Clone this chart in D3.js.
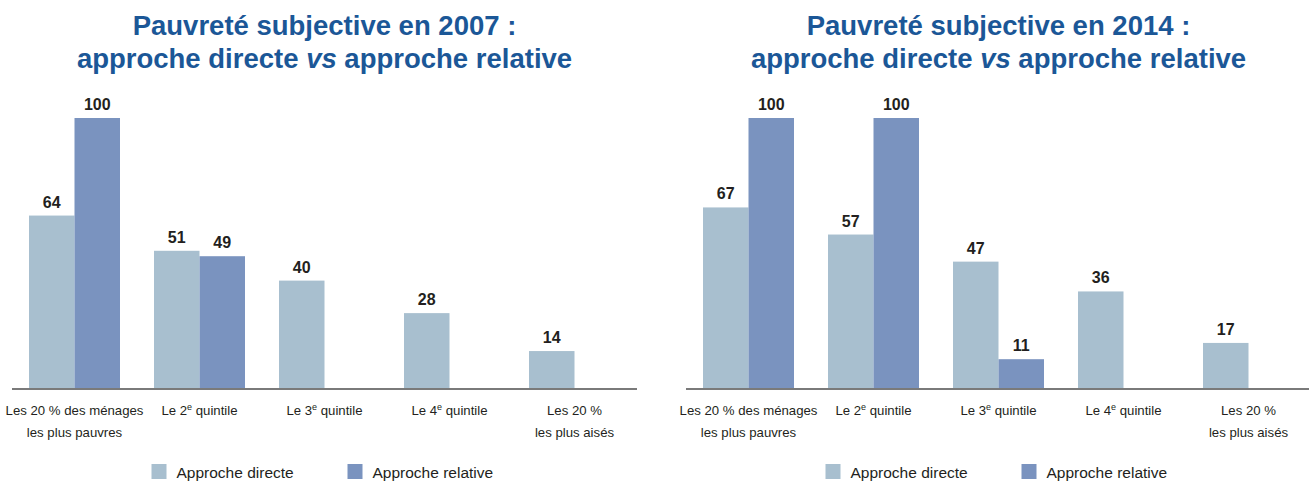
<!DOCTYPE html>
<meta charset="utf-8">
<style>
  body { margin: 0; background: #fff; }
  svg { font-family: "Liberation Sans", Arial, Helvetica, sans-serif; }
  .title { fill: #1b5797; font-weight: bold; font-size: 27.5px; text-anchor: middle; }
  .value { fill: #231f20; font-weight: bold; font-size: 16px; text-anchor: middle; }
  .cat { fill: #231f20; font-size: 13.2px; text-anchor: middle; }
  .legend text { fill: #231f20; font-size: 15.5px; }
  .axis-line { stroke: #7a7a7a; stroke-width: 2px; }
</style>
<body>
<script src="https://d3js.org/d3.v7.min.js"></script>
<script>
// categories (line 1, line 2); "^e" marks the superscript
const categories = [
  ["Les 20 % des ménages", "les plus pauvres"],
  ["Le 2^e quintile"],
  ["Le 3^e quintile"],
  ["Le 4^e quintile"],
  ["Les 20 %", "les plus aisés"]
];
const series = ["Approche directe", "Approche relative"];
const years = ["2007", "2014"];

// values per category, null = no bar
const direct2007   = [64, 51, 40, 28, 14];
const relative2007 = [100, 49, null, null, null];
const direct2014   = [67, 57, 47, 36, 17];
const relative2014 = [100, 100, 11, null, null];

const panels = [
  { year: years[0], values: [direct2007, relative2007], x0: 12 },
  { year: years[1], values: [direct2014, relative2014], x0: 686 }
];

const colors = d3.scaleOrdinal().domain(series).range(["#a8bfcf", "#7a93bf"]);

const width = 1309, height = 481;
const panelWidth = 625;
const baseline = 389, top100 = 118;

const svg = d3.select("body").append("svg")
  .attr("width", width)
  .attr("height", height);

const y = d3.scaleLinear().domain([0, 100]).range([baseline, top100]);

panels.forEach(p => {
  const g = svg.append("g").attr("class", "panel");
  const catIdx = d3.range(categories.length);

  const x = d3.scaleBand()
    .domain(catIdx)
    .range([p.x0, p.x0 + panelWidth])
    .paddingInner(0.272)
    .paddingOuter(0.136);

  const xs = d3.scaleBand()
    .domain(series)
    .range([0, x.bandwidth()]);

  const cx = p.x0 + panelWidth / 2;

  // title
  const title = g.append("text").attr("class", "title").attr("x", cx).attr("y", 35);
  title.text("Pauvreté subjective en " + p.year + " :");
  const t2 = g.append("text").attr("class", "title").attr("x", cx).attr("y", 68);
  t2.append("tspan").text("approche directe ");
  t2.append("tspan").attr("font-style", "italic").text("vs");
  t2.append("tspan").text(" approche relative");

  // bars
  const rows = [];
  series.forEach((s, si) => {
    p.values[si].forEach((v, ci) => {
      if (v != null) rows.push({ s: s, c: ci, v: v });
    });
  });

  g.selectAll("rect.bar").data(rows).enter().append("rect")
    .attr("class", "bar")
    .attr("x", d => x(d.c) + xs(d.s))
    .attr("y", d => y(d.v))
    .attr("width", xs.bandwidth())
    .attr("height", d => y(0) - y(d.v))
    .attr("fill", d => colors(d.s));

  g.selectAll("text.value").data(rows).enter().append("text")
    .attr("class", "value")
    .attr("x", d => x(d.c) + xs(d.s) + xs.bandwidth() / 2)
    .attr("y", d => y(d.v) - 8)
    .text(d => d.v);

  // axis line
  g.append("line")
    .attr("class", "axis-line")
    .attr("x1", x.range()[0])
    .attr("x2", x.range()[1])
    .attr("y1", baseline)
    .attr("y2", baseline);

  // category labels
  catIdx.forEach(ci => {
    categories[ci].forEach((line, li) => {
      const t = g.append("text")
        .attr("class", "cat")
        .attr("x", x(ci) + x.bandwidth() / 2)
        .attr("y", 415 + li * 22);
      const parts = line.split("^e");
      t.append("tspan").text(parts[0]);
      if (parts.length > 1) {
        t.append("tspan").attr("font-size", "9px").attr("baseline-shift", "super").text("e");
        t.append("tspan").text(parts[1]);
      }
    });
  });

  // legend
  const lg = g.append("g").attr("class", "legend");
  const offsets = [-173, 23];
  series.forEach((s, i) => {
    const item = lg.append("g").attr("transform", `translate(${cx + offsets[i]},464)`);
    item.append("rect").attr("width", 15).attr("height", 15).attr("fill", colors(s));
    item.append("text").attr("x", 25).attr("y", 14).text(s);
  });
});
</script>
</body>
</html>
